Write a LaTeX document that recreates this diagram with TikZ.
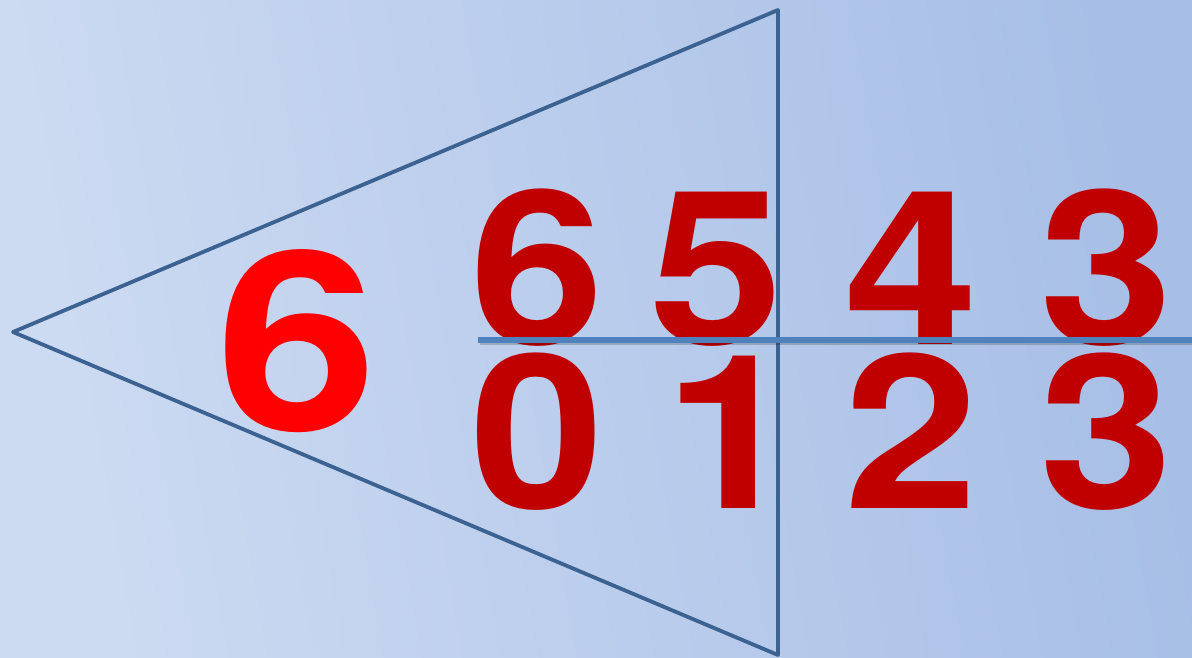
\documentclass[tikz,border=0pt]{standalone}
\usepackage{fontspec}
\setmainfont{TeX Gyre Heros}
\usepackage{graphicx}
\definecolor{bgLight}{RGB}{205,219,242}
\definecolor{bgDark}{RGB}{167,190,230}
\definecolor{triLine}{RGB}{60,98,145}
\definecolor{barLine}{RGB}{79,129,189}
\definecolor{darkRed}{RGB}{192,0,0}
\definecolor{brightRed}{RGB}{255,0,0}
\tikzset{
  digit/.style={inner sep=0pt, anchor=base, text=darkRed, font=\fontsize{215}{215}\selectfont\bfseries},
  bigdigit/.style={inner sep=0pt, anchor=base, text=brightRed, font=\fontsize{250}{250}\selectfont\bfseries},
  tri/.style={draw=triLine, line width=3.8pt, line join=round, line cap=round},
  bar/.style={draw=barLine, line width=5.5pt},
  barshadow/.style={draw=black, opacity=0.18, line width=4pt}
}
\begin{document}
\begin{tikzpicture}[x=1pt,y=-1pt]
\useasboundingbox (0,0) rectangle (1192,657);
\shade[left color=bgLight, right color=bgDark, shading angle=100] (0,0) rectangle (1192,657);

% digits
\node[bigdigit] (six) at (297,430) {\scalebox{1.16}[1]{6}};
\node[digit] (t1) at (537,344) {\scalebox{1.12}[1]{6}};
\node[digit] (t2) at (716,344) {\scalebox{1.12}[1]{5}};
\node[digit] (t3) at (911,344) {\scalebox{1.12}[1]{4}};
\node[digit] (t4) at (1106,344) {\scalebox{1.12}[1]{3}};
\node[digit] (b1) at (537,508) {\scalebox{1.12}[1]{0}};
\node[digit] (b2) at (731,508) {\scalebox{1.12}[1]{1}};
\node[digit] (b3) at (911,508) {\scalebox{1.12}[1]{2}};
\node[digit] (b4) at (1106,508) {\scalebox{1.12}[1]{3}};

% triangle
\coordinate (top) at (778,10);
\coordinate (tip) at (13,332);
\coordinate (bot) at (778,655);
\draw[tri] (top) -- (tip) -- (bot) -- cycle;

% division bar
\coordinate (barL) at (478,340);
\coordinate (barR) at (1192,340);
\coordinate (shL) at (480,343);
\coordinate (shR) at (1192,343);
\draw[barshadow] (shL) -- (shR);
\draw[bar] (barL) -- (barR);
\end{tikzpicture}
\end{document}
